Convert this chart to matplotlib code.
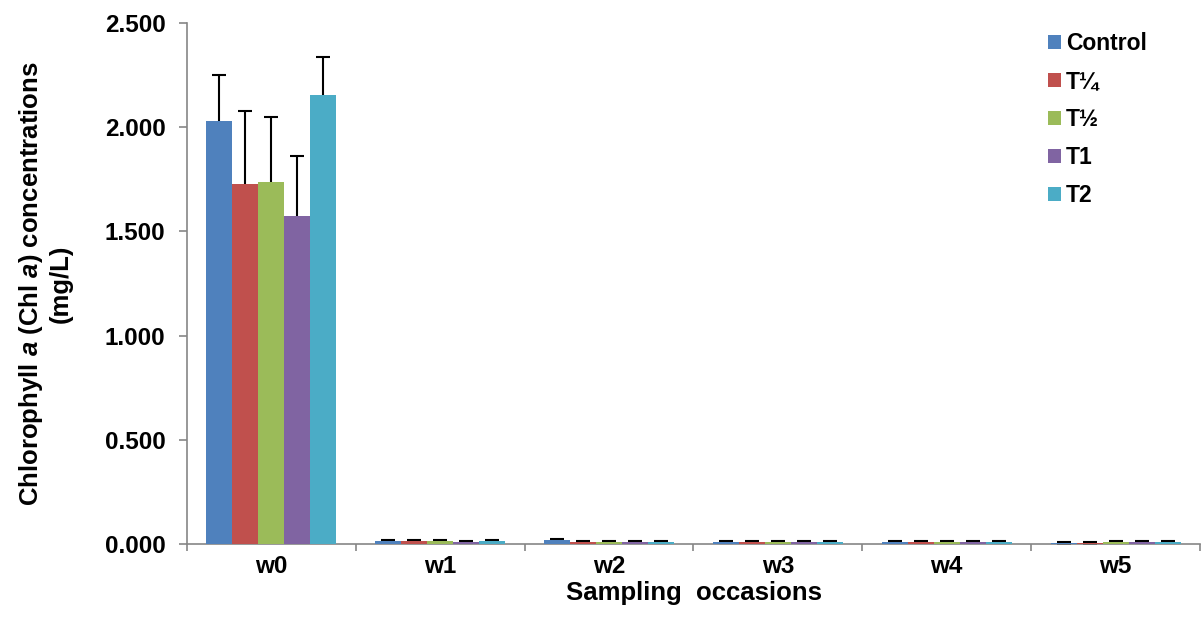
import matplotlib
matplotlib.use("Agg")
import matplotlib.pyplot as plt
import numpy as np
from matplotlib.patches import Patch

plt.rcParams['font.family'] = ['Liberation Sans', 'DejaVu Sans']
plt.rcParams['font.weight'] = 'bold'
plt.rcParams['mathtext.fontset'] = 'custom'
plt.rcParams['mathtext.it'] = 'Liberation Sans:italic:bold'
plt.rcParams['mathtext.rm'] = 'Liberation Sans:bold'

categories = ["w0", "w1", "w2", "w3", "w4", "w5"]
series_names = ["Control", "T¼", "T½", "T1", "T2"]
colors = ["#4F81BD", "#C0504D", "#9BBB59", "#8064A2", "#4BACC6"]

control = [2.030, 0.015, 0.018, 0.010, 0.008, 0.006]
t_quarter = [1.729, 0.012, 0.008, 0.008, 0.008, 0.006]
t_half = [1.739, 0.013, 0.010, 0.010, 0.008, 0.008]
t_one = [1.576, 0.010, 0.010, 0.010, 0.008, 0.008]
t_two = [2.155, 0.012, 0.008, 0.008, 0.010, 0.010]

control_err = [0.220, 0.005, 0.007, 0.005, 0.005, 0.004]
t_quarter_err = [0.351, 0.005, 0.005, 0.005, 0.005, 0.005]
t_half_err = [0.311, 0.005, 0.005, 0.005, 0.005, 0.005]
t_one_err = [0.287, 0.005, 0.005, 0.005, 0.005, 0.005]
t_two_err = [0.182, 0.005, 0.005, 0.005, 0.006, 0.006]

values = [control, t_quarter, t_half, t_one, t_two]
errors = [control_err, t_quarter_err, t_half_err, t_one_err, t_two_err]

fig = plt.figure(figsize=(12.03, 6.23), dpi=100)
ax = fig.add_axes([187/1203, 79/623, 1013/1203, 521/623])

x = np.arange(len(categories))
bw = 0.154
for i, (vals, errs, c) in enumerate(zip(values, errors, colors)):
    pos = x + (i - 2) * bw
    ax.bar(pos, vals, width=bw, color=c, edgecolor='none', zorder=3)
    ax.errorbar(pos, vals, yerr=errs, fmt='none',
                ecolor='black', elinewidth=1.5, capsize=4.7, capthick=1.5, zorder=2)

ax.set_xlim(-0.5, 5.5)
ax.set_ylim(0, 2.5)
yt = [0, 0.5, 1.0, 1.5, 2.0, 2.5]
ax.set_yticks(yt)
ax.set_yticklabels([f"{v:.3f}" for v in yt])
ax.set_xticks(x)
ax.set_xticklabels(categories)
ax.set_xticks(np.arange(-0.5, 6.0, 1.0), minor=True)
ax.tick_params(axis='x', which='major', length=0, pad=8, labelsize=17.5)
ax.tick_params(axis='x', which='minor', length=5.2, width=1.2, color='#868686')
ax.tick_params(axis='y', length=5.5, width=1.2, color='#868686', pad=10, labelsize=17.5)

for s in ['top', 'right']:
    ax.spines[s].set_visible(False)
for s in ['left', 'bottom']:
    ax.spines[s].set_color('#868686')
    ax.spines[s].set_linewidth(1.2)

ax.set_xlabel("Sampling  occasions", fontsize=18.5, fontweight='bold', labelpad=2)
ax.set_ylabel("Chlorophyll $\\mathit{a}$ (Chl $\\mathit{a}$) concentrations\n(mg/L)",
              fontsize=18.5, fontweight='bold', labelpad=23, linespacing=1.2)

handles = [Patch(facecolor=c, edgecolor='none') for c in colors]
leg = ax.legend(handles, series_names, loc='upper left',
                bbox_to_anchor=(1048/1203, 591/623), bbox_transform=fig.transFigure,
                frameon=False, fontsize=16.5, handlelength=0.57, handleheight=0.57,
                handletextpad=0.22, labelspacing=0.66, borderaxespad=0, borderpad=0)
for t in leg.get_texts():
    t.set_fontweight('bold')

fig.savefig("out.png", dpi=100)
